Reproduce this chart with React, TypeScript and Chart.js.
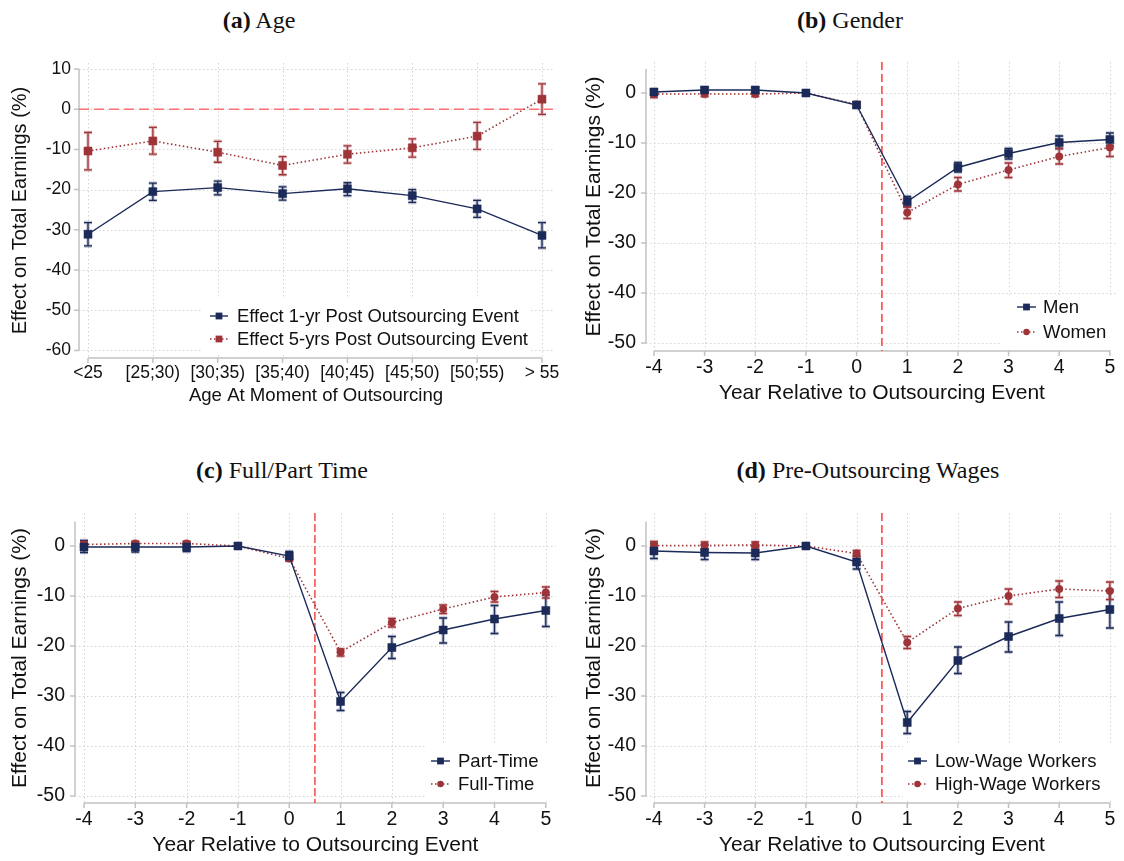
import React, { useEffect, useRef } from "react";
import { Chart, registerables } from "chart.js";

Chart.register(...registerables);

// ---------------- Data ----------------
const ageCategories = ["<25", "[25;30)", "[30;35)", "[35;40)", "[40;45)", "[45;50)", "[50;55)", "> 55"];
const ageIndex = [0, 1, 2, 3, 4, 5, 6, 7];
const age1yr = [-31.1, -20.5, -19.5, -21.0, -19.8, -21.5, -24.8, -31.4];
const age1yrLo = [-34.0, -22.7, -21.3, -22.6, -21.5, -23.2, -26.9, -34.5];
const age1yrHi = [-28.2, -18.4, -17.9, -19.3, -18.3, -20.0, -22.7, -28.2];
const age5yr = [-10.4, -7.9, -10.7, -14.0, -11.2, -9.6, -6.7, 2.5];
const age5yrLo = [-15.1, -11.2, -13.2, -16.3, -13.4, -11.9, -10.0, -1.3];
const age5yrHi = [-5.8, -4.5, -8.0, -11.8, -9.1, -7.4, -3.3, 6.3];

const years = [-4, -3, -2, -1, 0, 1, 2, 3, 4, 5];

const men = [0.2, 0.6, 0.6, 0, -2.4, -21.7, -14.9, -12.1, -9.9, -9.3];
const menLo = [-0.3, 0.1, 0.1, 0, -2.9, -22.7, -15.8, -13.2, -11.1, -10.5];
const menHi = [0.7, 1.1, 1.1, 0, -1.9, -20.7, -13.9, -11.1, -8.6, -8.0];
const women = [-0.2, -0.2, -0.2, 0, -2.3, -23.9, -18.3, -15.4, -12.7, -10.9];
const womenLo = [-0.9, -0.7, -0.7, 0, -2.8, -25.1, -19.6, -16.9, -14.2, -12.7];
const womenHi = [0.5, 0.3, 0.3, 0, -1.8, -22.8, -16.9, -14.0, -11.1, -9.3];

const partTime = [-0.2, -0.2, -0.2, 0, -2.0, -31.1, -20.3, -16.8, -14.6, -12.9];
const partTimeLo = [-1.3, -1.2, -1.1, 0, -2.8, -32.9, -22.5, -19.4, -17.5, -16.1];
const partTimeHi = [1.1, 0.8, 0.8, 0, -1.1, -29.3, -18.1, -14.4, -11.9, -9.8];
const fullTime = [0.3, 0.5, 0.5, 0, -2.5, -21.2, -15.3, -12.6, -10.2, -9.3];
const fullTimeLo = [-0.2, 0.1, 0.1, 0, -3.0, -22.0, -16.2, -13.5, -11.2, -10.4];
const fullTimeHi = [0.8, 0.9, 0.9, 0, -2.0, -20.6, -14.5, -11.8, -9.1, -8.2];

const lowWage = [-1.0, -1.3, -1.4, 0, -3.2, -35.3, -22.9, -18.1, -14.5, -12.7];
const lowWageLo = [-2.5, -2.7, -2.7, 0, -4.6, -37.5, -25.5, -21.2, -17.9, -16.4];
const lowWageHi = [0.5, 0.3, -0.1, 0, -2.0, -33.1, -20.2, -15.2, -11.2, -8.8];
const highWage = [0.1, 0.1, 0.2, 0, -1.5, -19.3, -12.5, -10.0, -8.6, -9.0];
const highWageLo = [-0.7, -0.6, -0.4, 0, -2.1, -20.5, -13.9, -11.6, -10.3, -10.7];
const highWageHi = [0.9, 0.8, 0.8, 0, -0.9, -18.1, -11.2, -8.6, -7.0, -7.2];

const ageYTicks = [10, 0, -10, -20, -30, -40, -50, -60];
const eventYTicks = [0, -10, -20, -30, -40, -50];

// ---------------- Styles ----------------
const NAVY = "#1b2a58";
const NAVY_HALO = "rgba(27,42,88,0.28)";
const RED = "#9e3338";
const RED_HALO = "rgba(158,51,56,0.28)";
const FONT = '"Liberation Sans", Arial, sans-serif';

type Series = {
  label: string;
  x: number[];
  y: number[];
  lo: number[];
  hi: number[];
  kind: "navy" | "red";
  marker: "rect" | "circle";
};

type Panel = {
  key: string;
  box: { left: number; top: number; width: number; height: number };
  area: { left: number; top: number; right: number; bottom: number };
  xAnchor: [number, number, number, number];
  yAnchor: [number, number, number, number];
  xTicks: number[];
  yTicks: number[];
  yAxisTop: number;
  xLabels?: string[];
  tickFont: number;
  xTickFont: number;
  xTitle: string;
  yTitle: string;
  xTitleFont: number;
  yTitleFont: number;
  xTitlePad: number;
  yTitlePad: number;
  xTickPad: number;
  yTickPad: number;
  ref: { dir: "h" | "v"; value: number; color: string; width: number; dash: number[] };
  legend: { sym0: number; sym1: number; textX: number; rows: number[]; box: number[]; font: number };
  series: Series[];
};

const panels: Panel[] = [
  {
    key: "a",
    box: { left: 0, top: 40, width: 562, height: 380 },
    area: { left: 79, top: 23, right: 553, bottom: 318 },
    xAnchor: [0, 88, 7, 542],
    yAnchor: [10, 29, -60, 310.4],
    xTicks: ageIndex,
    yTicks: ageYTicks,
    yAxisTop: 10,
    xLabels: ageCategories,
    tickFont: 17.5,
    xTickFont: 17.5,
    xTitle: "Age At Moment of Outsourcing",
    yTitle: "Effect on Total Earnings (%)",
    xTitleFont: 18.6,
    yTitleFont: 20,
    xTitlePad: 13,
    yTitlePad: 8,
    xTickPad: 5,
    yTickPad: 8,
    ref: { dir: "h", value: 0, color: "rgba(255,90,90,0.85)", width: 1.6, dash: [10, 5] },
    legend: { sym0: 210, sym1: 228, textX: 237, rows: [276, 299], box: [202, 258, 530, 315], font: 18.4 },
    series: [
      { label: "Effect 1-yr Post Outsourcing Event", x: ageIndex, y: age1yr, lo: age1yrLo, hi: age1yrHi, kind: "navy", marker: "rect" },
      { label: "Effect 5-yrs Post Outsourcing Event", x: ageIndex, y: age5yr, lo: age5yrLo, hi: age5yrHi, kind: "red", marker: "rect" },
    ],
  },
  {
    key: "b",
    box: { left: 562, top: 40, width: 562, height: 380 },
    area: { left: 84, top: 22, right: 559, bottom: 311 },
    xAnchor: [-4, 92, 5, 551],
    yAnchor: [0, 53, -50, 303],
    xTicks: years,
    yTicks: eventYTicks,
    yAxisTop: 4.8,
    tickFont: 19.5,
    xTickFont: 19.5,
    xTitle: "Year Relative to Outsourcing Event",
    yTitle: "Effect on Total Earnings (%)",
    xTitleFont: 21,
    yTitleFont: 21,
    xTitlePad: 14,
    yTitlePad: 20,
    xTickPad: 5,
    yTickPad: 10,
    ref: { dir: "v", value: 0.5, color: "#ff5a5a", width: 1.8, dash: [8, 4] },
    legend: { sym0: 455, sym1: 474, textX: 481, rows: [267, 292], box: [440, 255, 559, 308], font: 18.5 },
    series: [
      { label: "Men", x: years, y: men, lo: menLo, hi: menHi, kind: "navy", marker: "rect" },
      { label: "Women", x: years, y: women, lo: womenLo, hi: womenHi, kind: "red", marker: "circle" },
    ],
  },
  {
    key: "c",
    box: { left: 0, top: 490, width: 562, height: 371 },
    area: { left: 75, top: 23, right: 556, bottom: 313 },
    xAnchor: [-4, 84, 5, 546],
    yAnchor: [0, 56, -50, 306],
    xTicks: years,
    yTicks: eventYTicks,
    yAxisTop: 4.9,
    tickFont: 19.5,
    xTickFont: 19.5,
    xTitle: "Year Relative to Outsourcing Event",
    yTitle: "Effect on Total Earnings (%)",
    xTitleFont: 21,
    yTitleFont: 21,
    xTitlePad: 3,
    yTitlePad: 8,
    xTickPad: 5,
    yTickPad: 10,
    ref: { dir: "v", value: 0.5, color: "#f03030", width: 1.3, dash: [8, 3] },
    legend: { sym0: 431, sym1: 450, textX: 458, rows: [271, 294], box: [426, 254, 556, 310], font: 18.5 },
    series: [
      { label: "Part-Time", x: years, y: partTime, lo: partTimeLo, hi: partTimeHi, kind: "navy", marker: "rect" },
      { label: "Full-Time", x: years, y: fullTime, lo: fullTimeLo, hi: fullTimeHi, kind: "red", marker: "circle" },
    ],
  },
  {
    key: "d",
    box: { left: 562, top: 490, width: 562, height: 371 },
    area: { left: 84, top: 23, right: 559, bottom: 313 },
    xAnchor: [-4, 92, 5, 551],
    yAnchor: [0, 56, -50, 306],
    xTicks: years,
    yTicks: eventYTicks,
    yAxisTop: 4.9,
    tickFont: 19.5,
    xTickFont: 19.5,
    xTitle: "Year Relative to Outsourcing Event",
    yTitle: "Effect on Total Earnings (%)",
    xTitleFont: 21,
    yTitleFont: 21,
    xTitlePad: 3,
    yTitlePad: 20,
    xTickPad: 5,
    yTickPad: 10,
    ref: { dir: "v", value: 0.5, color: "#ff5a5a", width: 1.8, dash: [8, 4] },
    legend: { sym0: 346, sym1: 365, textX: 373, rows: [271, 294], box: [341, 254, 559, 310], font: 18.5 },
    series: [
      { label: "Low-Wage Workers", x: years, y: lowWage, lo: lowWageLo, hi: lowWageHi, kind: "navy", marker: "rect" },
      { label: "High-Wage Workers", x: years, y: highWage, lo: highWageLo, hi: highWageHi, kind: "red", marker: "circle" },
    ],
  },
];

const titles = [
  { bold: "(a)", text: " Age", left: -22, top: 6 },
  { bold: "(b)", text: " Gender", left: 569, top: 6 },
  { bold: "(c)", text: " Full/Part Time", left: 1, top: 456 },
  { bold: "(d)", text: " Pre-Outsourcing Wages", left: 587, top: 456 },
];

function rangeFrom(anchor: [number, number, number, number], pa: number, pb: number): [number, number] {
  const [v0, p0, v1, p1] = anchor;
  const ppu = (p1 - p0) / (v1 - v0);
  const a = v0 + (pa - p0) / ppu;
  const b = v0 + (pb - p0) / ppu;
  return [Math.min(a, b), Math.max(a, b)];
}

function drawMarker(ctx: CanvasRenderingContext2D, kind: "rect" | "circle", x: number, y: number, color: string, scale = 1) {
  ctx.fillStyle = color;
  ctx.beginPath();
  if (kind === "rect") {
    const h = 4 * scale;
    ctx.rect(x - h, y - h, 2 * h, 2 * h);
  } else {
    ctx.arc(x, y, 3.8 * scale, 0, Math.PI * 2);
  }
  ctx.fill();
}

function makePlugin(p: Panel) {
  return {
    id: "stata_" + p.key,
    beforeDatasetsDraw(chart: any) {
      const { ctx, chartArea: a } = chart;
      const xs = chart.scales.x;
      const ys = chart.scales.y;
      ctx.save();
      // grid
      ctx.strokeStyle = "#d4d4d4";
      ctx.lineWidth = 1;
      ctx.setLineDash([1.5, 2.5]);
      ctx.beginPath();
      for (const v of p.yTicks) {
        const yy = Math.round(ys.getPixelForValue(v)) + 0.5;
        ctx.moveTo(a.left, yy);
        ctx.lineTo(a.right, yy);
      }
      for (const v of p.xTicks) {
        const xx = Math.round(xs.getPixelForValue(v)) + 0.5;
        ctx.moveTo(xx, a.top);
        ctx.lineTo(xx, a.bottom);
      }
      ctx.stroke();
      ctx.setLineDash([]);
      // legend background
      const b = p.legend.box;
      ctx.fillStyle = "#ffffff";
      ctx.fillRect(b[0], b[1], b[2] - b[0], b[3] - b[1]);
      // axes
      ctx.strokeStyle = "#c2c2c2";
      ctx.lineWidth = 1.5;
      ctx.beginPath();
      const yTop = ys.getPixelForValue(p.yAxisTop);
      const yBot = ys.getPixelForValue(Math.min(...p.yTicks));
      ctx.moveTo(a.left, yTop);
      ctx.lineTo(a.left, yBot);
      for (const v of p.yTicks) {
        const yy = ys.getPixelForValue(v);
        ctx.moveTo(a.left - 5, yy);
        ctx.lineTo(a.left, yy);
      }
      const x0 = xs.getPixelForValue(p.xTicks[0]);
      const x1 = xs.getPixelForValue(p.xTicks[p.xTicks.length - 1]);
      ctx.moveTo(x0, a.bottom);
      ctx.lineTo(x1, a.bottom);
      for (const v of p.xTicks) {
        const xx = xs.getPixelForValue(v);
        ctx.moveTo(xx, a.bottom);
        ctx.lineTo(xx, a.bottom + 5);
      }
      ctx.stroke();
      // reference line
      ctx.strokeStyle = p.ref.color;
      ctx.lineWidth = p.ref.width;
      ctx.setLineDash(p.ref.dash);
      ctx.beginPath();
      if (p.ref.dir === "h") {
        const yy = ys.getPixelForValue(p.ref.value);
        ctx.moveTo(a.left, yy);
        ctx.lineTo(a.right, yy);
      } else {
        const xx = xs.getPixelForValue(p.ref.value);
        ctx.moveTo(xx, a.top);
        ctx.lineTo(xx, a.bottom);
      }
      ctx.stroke();
      ctx.setLineDash([]);
      // error bars
      for (const s of p.series) {
        const col = s.kind === "navy" ? NAVY : RED;
        const halo = s.kind === "navy" ? NAVY_HALO : RED_HALO;
        ctx.beginPath();
        for (let i = 0; i < s.x.length; i++) {
          if (s.hi[i] === s.lo[i]) continue;
          const px = xs.getPixelForValue(s.x[i]);
          const yh = ys.getPixelForValue(s.hi[i]);
          const yl = ys.getPixelForValue(s.lo[i]);
          ctx.moveTo(px, yh);
          ctx.lineTo(px, yl);
          ctx.moveTo(px - 4, yh);
          ctx.lineTo(px + 4, yh);
          ctx.moveTo(px - 4, yl);
          ctx.lineTo(px + 4, yl);
        }
        ctx.strokeStyle = halo;
        ctx.lineWidth = 3.5;
        ctx.stroke();
        ctx.strokeStyle = col;
        ctx.lineWidth = 1.3;
        ctx.stroke();
      }
      ctx.restore();
    },
    afterDatasetsDraw(chart: any) {
      const { ctx } = chart;
      ctx.save();
      const L = p.legend;
      p.series.forEach((s, i) => {
        const col = s.kind === "navy" ? NAVY : RED;
        const ry = L.rows[i];
        ctx.strokeStyle = col;
        ctx.lineWidth = s.kind === "navy" ? 1.4 : 1.5;
        ctx.setLineDash(s.kind === "navy" ? [] : [1.5, 2.5]);
        ctx.beginPath();
        ctx.moveTo(L.sym0, ry);
        ctx.lineTo(L.sym1, ry);
        ctx.stroke();
        ctx.setLineDash([]);
        drawMarker(ctx, s.marker, (L.sym0 + L.sym1) / 2, ry, col, 0.85);
        ctx.fillStyle = "#111";
        ctx.font = `${L.font}px ${FONT}`;
        ctx.textAlign = "left";
        ctx.textBaseline = "middle";
        ctx.fillText(s.label, L.textX, ry + 1);
      });
      ctx.restore();
    },
  };
}

function PanelChart({ p }: { p: Panel }) {
  const ref = useRef<HTMLCanvasElement | null>(null);
  useEffect(() => {
    const [xmin, xmax] = rangeFrom(p.xAnchor, p.area.left, p.area.right);
    const [ymin, ymax] = rangeFrom(p.yAnchor, p.area.bottom, p.area.top);
    const chart = new Chart(ref.current as HTMLCanvasElement, {
      type: "line",
      data: {
        datasets: p.series.map((s) => {
          const col = s.kind === "navy" ? NAVY : RED;
          return {
            label: s.label,
            data: s.x.map((xv, i) => ({ x: xv, y: s.y[i] })),
            borderColor: col,
            backgroundColor: col,
            borderWidth: s.kind === "navy" ? 1.4 : 1.6,
            borderDash: s.kind === "navy" ? [] : [1.5, 2.5],
            pointStyle: s.marker === "rect" ? "rect" : "circle",
            pointRadius: s.marker === "rect" ? 5.7 : 3.8,
            pointBackgroundColor: col,
            pointBorderColor: col,
            pointBorderWidth: 0.5,
            tension: 0,
            fill: false,
            clip: false,
          } as any;
        }),
      },
      options: {
        responsive: false,
        animation: false,
        devicePixelRatio: 1,
        layout: { padding: { top: p.area.top, right: p.box.width - p.area.right, left: 0, bottom: 0 } },
        plugins: { legend: { display: false }, tooltip: { enabled: false }, title: { display: false } },
        scales: {
          x: {
            type: "linear",
            min: xmin,
            max: xmax,
            bounds: "data",
            grid: { display: false, drawTicks: false },
            border: { display: false },
            afterBuildTicks: (s: any) => {
              s.ticks = p.xTicks.map((v) => ({ value: v }));
            },
            afterFit: (s: any) => {
              s.height = p.box.height - p.area.bottom;
              s.paddingLeft = 0;
              s.paddingRight = 0;
              s.paddingTop = 0;
              s.paddingBottom = 0;
            },
            ticks: {
              autoSkip: false,
              maxRotation: 0,
              minRotation: 0,
              padding: p.xTickPad,
              color: "#111",
              font: { family: FONT, size: p.xTickFont },
              callback: (v: any) => (p.xLabels ? p.xLabels[Math.round(Number(v))] ?? "" : String(v)),
            },
            title: {
              display: true,
              text: p.xTitle,
              color: "#111",
              font: { family: FONT, size: p.xTitleFont },
              padding: { top: 0, bottom: p.xTitlePad },
            },
          },
          y: {
            type: "linear",
            min: ymin,
            max: ymax,
            bounds: "data",
            grid: { display: false, drawTicks: false },
            border: { display: false },
            afterBuildTicks: (s: any) => {
              s.ticks = p.yTicks.map((v) => ({ value: v }));
            },
            afterFit: (s: any) => {
              s.width = p.area.left;
              s.paddingLeft = 0;
              s.paddingRight = 0;
              s.paddingTop = 0;
              s.paddingBottom = 0;
            },
            ticks: {
              autoSkip: false,
              padding: p.yTickPad,
              color: "#111",
              font: { family: FONT, size: p.tickFont },
              callback: (v: any) => String(v),
            },
            title: {
              display: true,
              text: p.yTitle,
              color: "#111",
              font: { family: FONT, size: p.yTitleFont },
              padding: { top: p.yTitlePad, bottom: 0 },
            },
          },
        },
      },
      plugins: [makePlugin(p) as any],
    });
    return () => chart.destroy();
  }, [p]);
  return (
    <canvas
      ref={ref}
      width={p.box.width}
      height={p.box.height}
      style={{ position: "absolute", left: p.box.left, top: p.box.top, width: p.box.width, height: p.box.height }}
    />
  );
}

export default function App() {
  return (
    <div style={{ position: "absolute", left: 0, top: 0, width: 1124, height: 861, background: "#fff", overflow: "hidden" }}>
      {titles.map((t) => (
        <div
          key={t.bold}
          style={{
            position: "absolute",
            left: t.left,
            top: t.top,
            width: 562,
            height: 28,
            lineHeight: "28px",
            textAlign: "center",
            fontFamily: '"Liberation Serif", "DejaVu Serif", serif',
            fontSize: 24,
            color: "#111",
            whiteSpace: "nowrap",
          }}
        >
          <b>{t.bold}</b>
          {t.text}
        </div>
      ))}
      {panels.map((p) => (
        <PanelChart key={p.key} p={p} />
      ))}
    </div>
  );
}
